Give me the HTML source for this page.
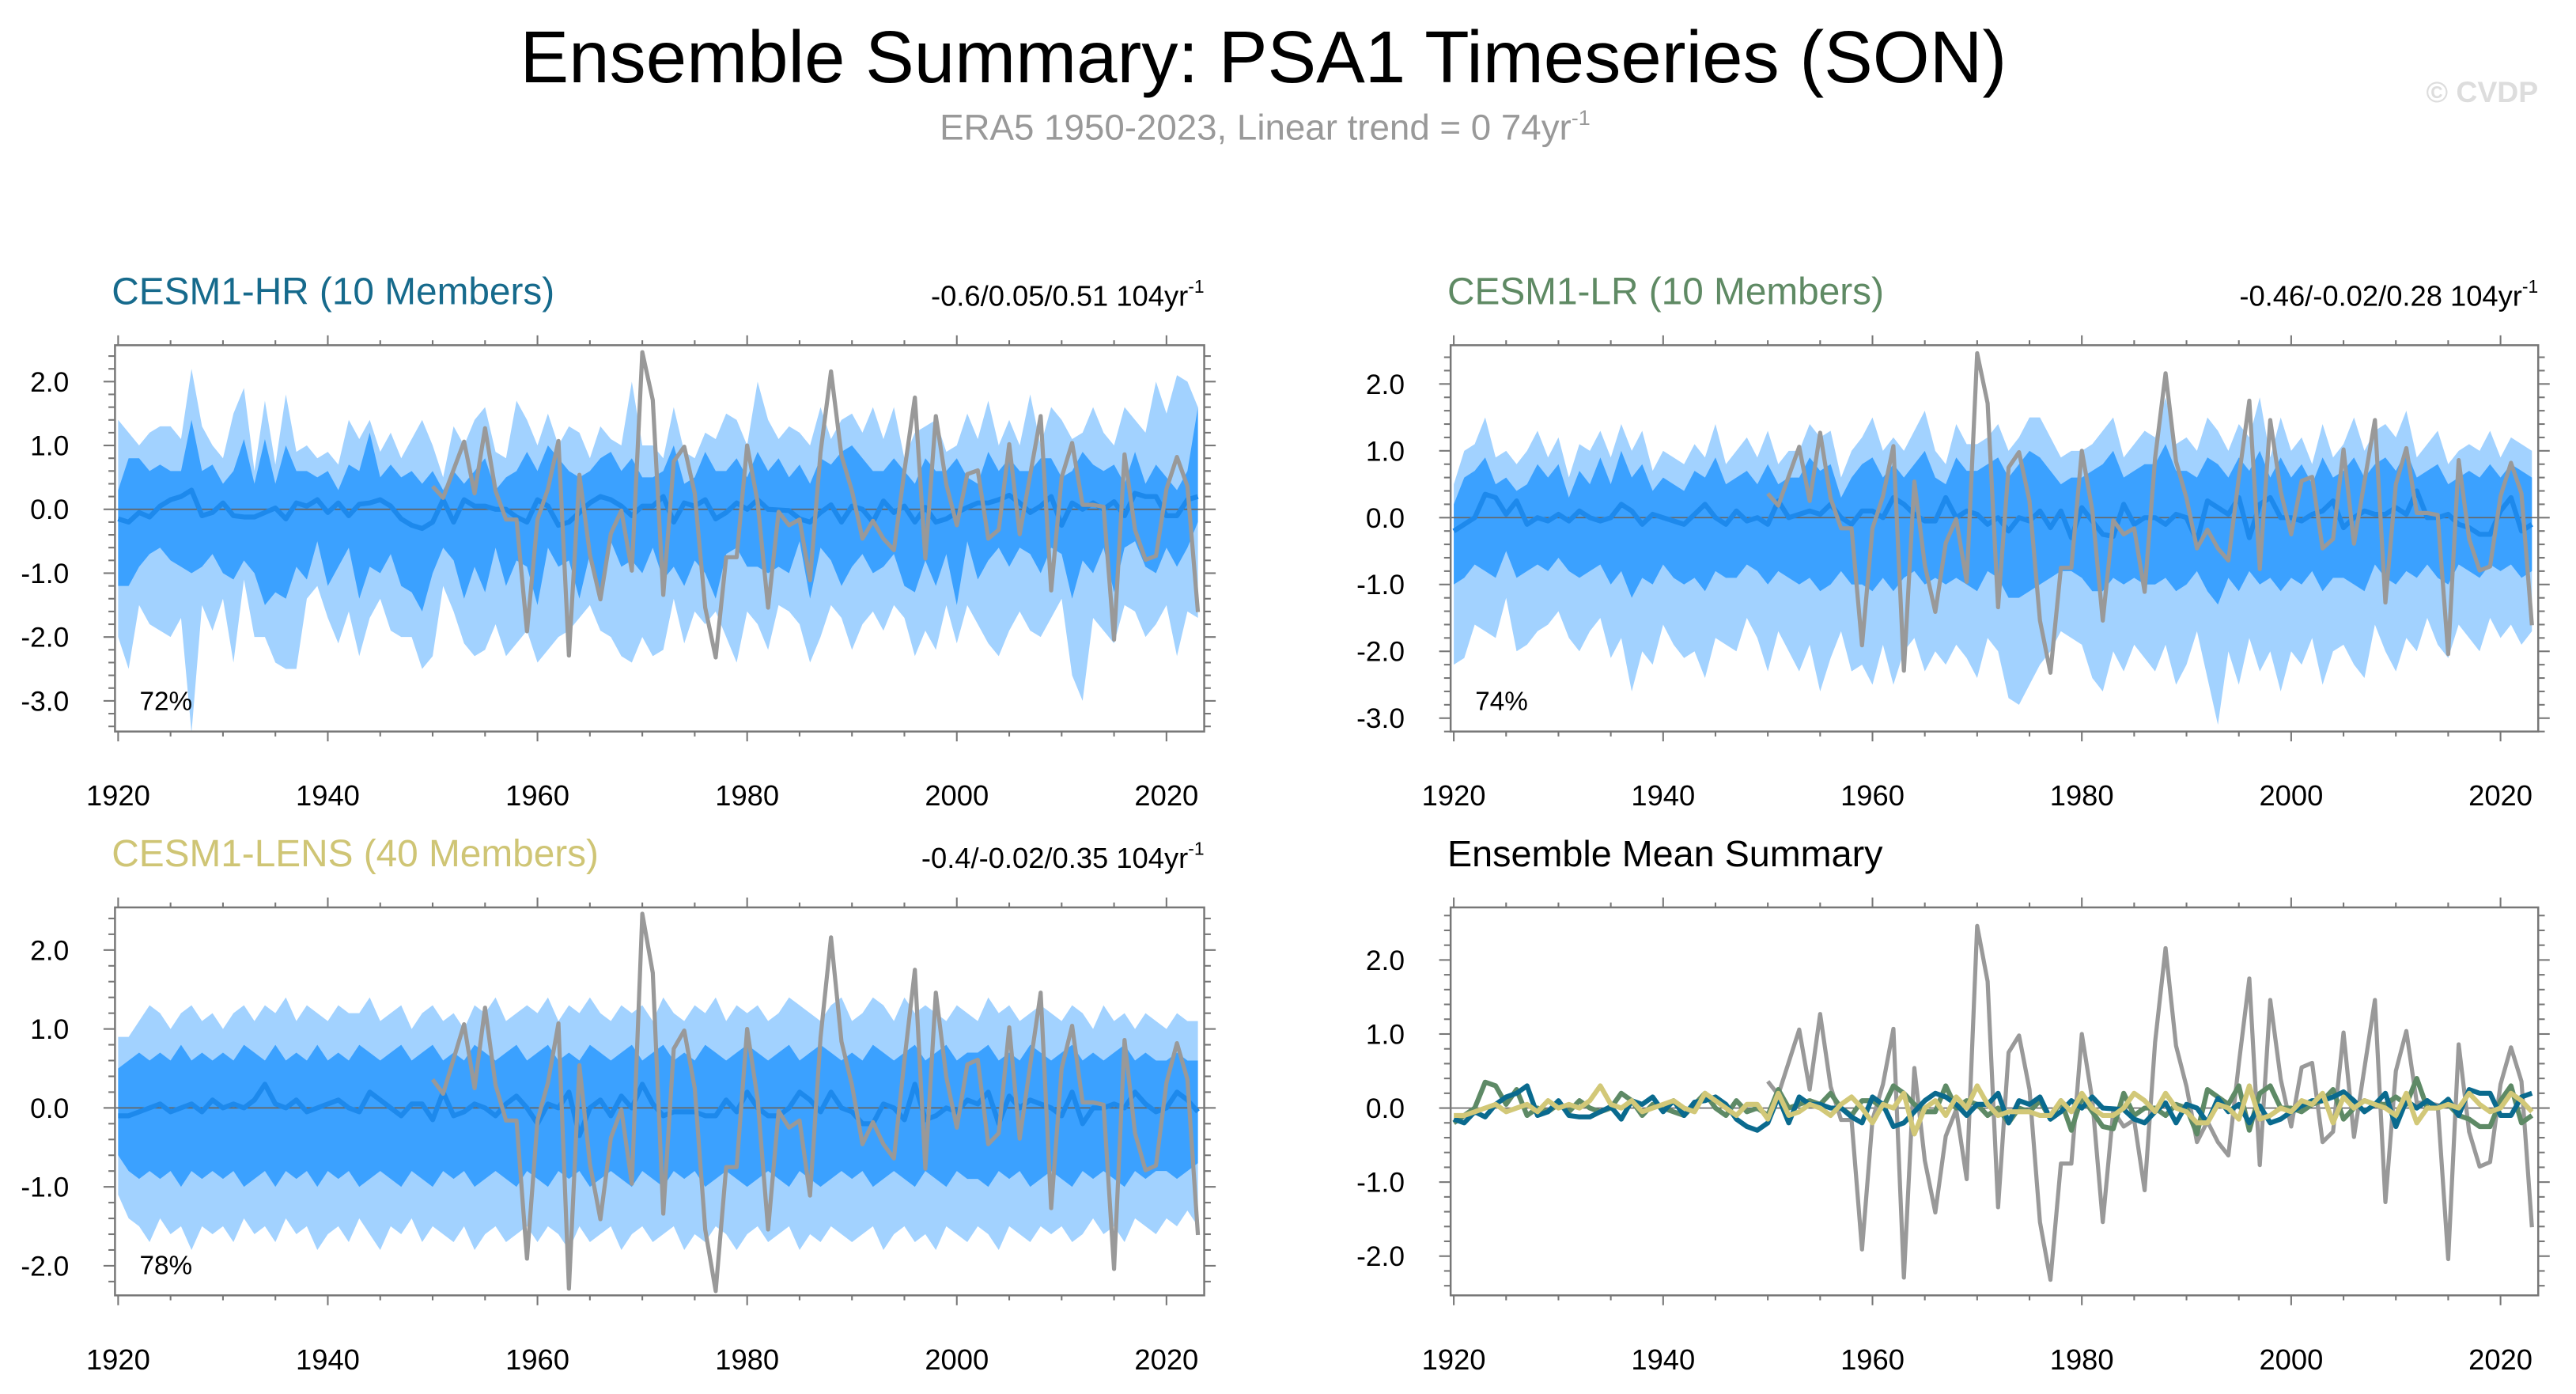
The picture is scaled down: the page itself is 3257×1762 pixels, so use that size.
<!DOCTYPE html>
<html><head><meta charset="utf-8"><style>
html,body{margin:0;padding:0;background:#fff}
svg{display:block;font-family:"Liberation Sans",sans-serif}
</style></head><body>
<svg id="chart" xmlns="http://www.w3.org/2000/svg" width="3257" height="1762" viewBox="0 0 1568 848" preserveAspectRatio="none">
<rect width="1568" height="848" fill="#fff"/>
<text x="769" y="50" font-size="44.5" text-anchor="middle" fill="#000">Ensemble Summary: PSA1 Timeseries (SON)</text>
<text x="770" y="85" font-size="22" text-anchor="middle" fill="#999">ERA5 1950-2023, Linear trend = 0 74yr<tspan font-size="13" dy="-9">-1</tspan></text>
<text x="1545" y="62" font-size="18" text-anchor="end" fill="#ddd" font-weight="bold">© CVDP</text>
<g id="plots"></g>
</svg>
<script>
const years0 = 1920;
const eraStart = 1950;
const era5 = [0.36,0.18,0.62,1.06,0.25,1.27,0.29,-0.16,-0.16,-1.91,
-0.16,0.32,1.07,-2.29,0.54,-0.71,-1.41,-0.38,-0.02,-0.96,
2.46,1.71,-1.34,0.75,0.98,0.25,-1.54,-2.32,-0.75,-0.75,
1.0,0.11,-1.54,-0.04,-0.25,-0.16,-1.11,0.89,2.16,0.84,
0.29,-0.46,-0.18,-0.46,-0.64,0.6,1.75,-0.77,1.46,0.39,
-0.25,0.55,0.61,-0.46,-0.32,1.02,-0.39,0.54,1.46,-1.27,
0.5,1.04,0.07,0.07,0.04,-2.04,0.86,-0.32,-0.79,-0.73,
0.32,0.82,0.36,-1.61];
const hrMean = [-0.15,-0.2,-0.05,-0.12,0.05,0.15,0.2,0.3,-0.1,-0.05,
0.1,-0.1,-0.12,-0.12,-0.05,0.02,-0.15,0.1,0.05,0.15,
-0.05,0.1,-0.1,0.08,0.1,0.15,0.05,-0.15,-0.25,-0.3,
-0.2,0.15,-0.2,0.15,0.05,0.05,0.0,0.0,-0.12,-0.2,
0.15,0.05,-0.25,-0.2,-0.05,0.1,0.2,0.15,0.05,-0.1,
0.05,0.05,0.2,-0.2,0.1,0.05,0.15,-0.15,-0.05,0.1,
0.0,0.15,0.0,-0.01,-0.02,-0.15,-0.2,-0.05,0.07,-0.2,
0.05,0.0,-0.2,0.13,-0.05,0.05,-0.2,0.03,-0.2,-0.15,
-0.05,0.03,0.1,0.1,0.15,0.22,0.1,-0.05,0.05,0.2,
-0.25,0.1,0.0,0.1,0.0,0.12,-0.1,0.25,0.2,0.2,
-0.1,-0.1,0.15,0.2];
const lrMean = [-0.2,-0.1,0.0,0.35,0.3,0.05,0.25,-0.1,0.0,-0.05,
0.05,-0.05,0.1,0.0,-0.05,0.0,0.2,0.1,-0.1,0.05,
0.0,-0.05,-0.1,0.05,0.2,0.0,-0.1,0.1,-0.05,0.0,
-0.1,0.25,0.0,0.05,0.1,0.05,0.2,0.0,-0.1,0.1,
0.1,0.0,0.3,0.2,0.05,-0.05,-0.05,0.3,0.0,0.1,
0.05,-0.1,0.0,-0.2,0.0,-0.05,0.1,-0.15,0.1,-0.3,
0.15,-0.05,-0.25,-0.28,0.2,-0.1,0.0,0.0,-0.1,0.05,
0.0,-0.35,0.25,0.15,0.05,0.3,-0.3,0.2,0.3,0.0,
0.0,-0.05,0.05,0.1,0.25,-0.15,0.0,0.1,0.05,0.05,
0.15,0.05,0.4,0.0,0.0,0.05,-0.1,-0.15,-0.25,-0.25,
0.1,0.3,-0.2,-0.1];
const lensMean = [-0.1,-0.1,-0.05,0.0,0.05,-0.05,0.0,0.05,-0.05,0.1,
0.0,0.05,0.0,0.1,0.3,0.05,0.0,0.1,-0.05,0.0,
0.05,0.1,0.0,-0.05,0.2,0.1,0.0,-0.1,0.05,0.05,
-0.15,0.2,-0.1,-0.05,0.05,0.0,-0.1,0.05,0.15,0.0,
-0.2,0.05,0.0,0.2,-0.35,0.0,0.1,-0.1,0.15,0.0,
0.3,0.05,-0.1,-0.05,-0.05,-0.05,-0.1,-0.1,0.1,-0.05,
0.2,0.0,-0.1,-0.1,0.0,0.2,0.1,-0.05,0.2,0.0,
-0.05,-0.2,-0.2,0.05,0.0,-0.15,0.3,-0.15,-0.1,0.0,
-0.05,0.1,0.05,0.2,-0.2,0.15,0.0,0.1,0.05,0.0,
-0.1,0.2,-0.2,0.0,0.0,0.05,0.0,0.2,0.05,-0.05,
0.0,0.2,0.1,-0.05];
const hrOuterHi = [1.4,1.2,1.0,1.2,1.3,1.3,1.1,2.2,1.3,1.0,0.8,1.5,1.9,0.6,1.7,0.7,1.8,0.9,1.0,0.8,0.9,0.7,1.4,1.1,1.4,0.9,1.2,0.8,1.1,1.4,1.0,0.5,1.3,1.0,1.4,1.6,0.9,0.8,1.7,1.4,1.0,1.5,1.0,1.3,1.2,0.8,1.3,1.1,1.0,2.0,1.0,1.0,0.8,1.6,0.9,0.8,1.2,1.1,1.5,1.4,1.0,2.0,1.4,1.1,1.3,1.2,1.0,1.6,1.1,1.4,1.5,1.2,1.6,1.1,1.6,0.8,1.2,1.3,1.4,0.9,1.0,1.5,1.1,1.7,1.0,1.4,1.0,1.8,1.0,1.6,1.4,1.1,1.2,1.6,1.2,1.0,1.6,1.4,1.2,2.0,1.5,2.1,2.0,1.6];
const hrOuterLo = [-2.0,-2.5,-1.5,-1.8,-1.9,-2.0,-1.7,-3.5,-1.5,-1.9,-1.4,-2.4,-1.1,-2.0,-2.0,-2.4,-2.5,-2.5,-1.4,-1.2,-1.7,-2.1,-1.6,-2.3,-1.7,-1.4,-1.9,-2.0,-2.0,-2.5,-2.3,-1.2,-1.6,-2.1,-2.3,-2.2,-1.8,-2.3,-2.1,-1.9,-2.4,-2.2,-2.0,-1.9,-1.7,-1.5,-1.9,-2.0,-2.3,-2.4,-2.0,-2.3,-2.2,-1.4,-2.1,-1.6,-1.8,-1.6,-2.0,-2.4,-1.6,-1.8,-2.2,-1.5,-1.6,-1.8,-2.4,-2.0,-1.5,-1.7,-2.2,-1.8,-1.6,-1.9,-1.5,-1.7,-2.3,-1.9,-2.2,-1.5,-2.1,-1.5,-1.8,-2.1,-2.3,-1.9,-1.6,-1.9,-2.0,-1.7,-1.4,-2.6,-3.0,-1.7,-1.9,-2.1,-1.5,-1.6,-2.0,-1.8,-1.5,-2.3,-1.6,-1.7];
const hrInnerHi = [0.3,0.8,0.8,0.6,0.7,0.6,0.6,1.4,0.6,0.7,0.4,0.6,1.1,0.4,1.1,0.4,1.0,0.6,0.6,0.5,0.6,0.3,0.7,0.6,1.2,0.5,0.7,0.5,0.6,0.4,0.6,0.3,0.6,0.4,0.6,0.8,0.3,0.5,0.6,0.9,0.6,1.0,0.8,0.6,0.5,0.6,0.8,0.9,0.6,0.8,0.5,0.5,0.6,1.0,0.4,0.5,0.9,0.6,0.6,0.8,0.5,0.9,0.6,0.8,0.5,0.7,0.4,0.8,0.7,0.9,1.0,0.8,0.6,0.6,0.8,0.6,0.4,0.8,0.6,0.6,0.8,0.5,0.4,0.9,0.6,0.8,0.6,0.6,0.8,0.8,0.5,0.6,0.9,0.7,0.6,0.7,0.4,0.9,0.4,0.7,0.5,0.3,0.6,1.6];
const hrInnerLo = [-1.2,-1.2,-0.9,-0.7,-0.6,-0.8,-0.9,-1.0,-0.9,-0.7,-1.0,-1.1,-0.8,-1.0,-1.5,-1.3,-1.4,-0.9,-1.1,-0.5,-1.2,-0.9,-0.6,-1.4,-0.9,-1.0,-0.7,-1.2,-1.3,-1.6,-1.0,-0.6,-0.8,-1.4,-0.9,-1.3,-0.6,-1.2,-0.8,-0.9,-1.5,-0.6,-0.9,-0.8,-1.4,-0.7,-1.3,-0.5,-0.9,-0.8,-1.0,-0.6,-1.1,-0.9,-1.2,-0.8,-1.0,-1.4,-0.7,-0.6,-0.9,-0.9,-1.0,-0.9,-1.0,-0.5,-1.4,-0.6,-0.8,-1.2,-0.9,-0.7,-1.0,-0.9,-0.7,-1.2,-1.3,-0.8,-1.2,-0.7,-1.5,-0.5,-1.1,-0.8,-0.6,-0.9,-0.6,-0.7,-1.0,-0.6,-0.7,-1.4,-0.8,-1.0,-0.6,-1.3,-0.6,-0.5,-0.9,-1.0,-0.6,-0.9,-0.6,-0.2];
const lrOuterHi = [0.5,1.0,1.1,1.5,0.9,1.0,0.8,1.0,1.3,0.9,1.2,0.6,1.1,1.0,1.3,0.9,1.4,1.0,1.3,0.7,1.0,0.9,0.8,1.1,0.9,1.4,0.8,1.0,1.2,0.9,1.3,0.8,1.0,1.0,1.4,1.2,1.3,0.6,1.0,1.2,1.5,1.0,1.2,1.0,1.3,1.6,1.0,0.8,1.4,1.1,1.1,1.2,1.4,1.0,1.2,1.5,1.5,1.2,0.9,1.0,1.0,1.1,1.3,1.5,0.9,1.1,1.3,1.2,1.8,1.1,1.2,1.0,1.5,1.3,1.0,1.4,1.2,1.8,0.9,1.5,1.0,1.2,0.8,1.4,0.9,1.1,1.5,1.0,1.3,1.4,1.2,1.6,0.9,1.1,1.3,0.8,1.0,1.1,1.0,1.3,0.9,1.2,1.1,1.0];
const lrOuterLo = [-2.2,-2.1,-1.6,-1.7,-1.8,-1.2,-2.0,-1.9,-1.7,-1.6,-1.4,-1.8,-2.0,-1.7,-1.5,-2.1,-1.8,-2.6,-2.0,-2.2,-1.6,-1.9,-2.1,-2.0,-2.4,-1.8,-1.9,-2.0,-1.5,-1.8,-2.3,-1.7,-2.0,-2.3,-1.9,-2.6,-2.1,-1.7,-2.3,-2.2,-2.5,-1.9,-2.5,-2.0,-1.8,-2.3,-2.0,-2.2,-1.9,-2.1,-2.4,-1.8,-2.0,-2.7,-2.8,-2.5,-2.2,-2.0,-1.7,-1.8,-1.9,-2.4,-2.6,-2.0,-2.3,-1.9,-2.1,-2.3,-1.9,-2.5,-2.2,-1.7,-2.4,-3.1,-2.0,-2.5,-1.8,-2.3,-2.0,-2.6,-2.0,-2.2,-1.8,-2.5,-2.0,-1.9,-2.2,-2.4,-1.6,-2.0,-2.3,-1.8,-2.0,-1.5,-1.9,-2.1,-1.6,-1.8,-2.0,-1.5,-1.8,-1.6,-1.9,-1.7];
const lrInnerHi = [0.2,0.6,0.7,0.9,0.5,0.6,0.4,0.5,0.8,0.6,0.8,0.3,0.7,0.5,0.9,0.5,1.0,0.6,0.8,0.4,0.6,0.5,0.4,0.7,0.6,0.9,0.5,0.6,0.7,0.5,0.8,0.5,0.6,0.6,0.9,0.7,0.8,0.3,0.6,0.8,0.9,0.6,0.8,0.6,0.8,1.0,0.6,0.5,0.9,0.7,0.7,0.8,0.9,0.6,0.8,1.0,0.9,0.7,0.5,0.6,0.6,0.7,0.8,1.0,0.6,0.7,0.8,0.8,1.1,0.7,0.7,0.6,0.9,0.8,0.6,0.9,0.7,1.0,0.6,0.9,0.6,0.8,0.5,0.9,0.6,0.7,0.9,0.6,0.8,0.9,0.7,1.0,0.6,0.7,0.8,0.5,0.6,0.7,0.6,0.8,0.6,0.8,0.7,0.6];
const lrInnerLo = [-1.0,-0.9,-0.7,-0.8,-0.9,-0.5,-0.9,-0.8,-0.7,-0.8,-0.6,-0.8,-0.9,-0.8,-0.7,-1.0,-0.8,-1.2,-0.9,-1.0,-0.7,-0.9,-1.0,-0.9,-1.1,-0.8,-0.9,-0.9,-0.7,-0.8,-1.0,-0.8,-0.9,-1.0,-0.9,-1.1,-1.0,-0.8,-1.0,-1.0,-1.1,-0.9,-1.1,-0.9,-0.8,-1.0,-0.9,-1.0,-0.9,-1.0,-1.1,-0.8,-0.9,-1.2,-1.2,-1.1,-1.0,-0.9,-0.8,-0.8,-0.9,-1.1,-1.1,-0.9,-1.0,-0.9,-1.0,-1.0,-0.9,-1.1,-1.0,-0.8,-1.1,-1.3,-0.9,-1.1,-0.8,-1.0,-0.9,-1.1,-0.9,-1.0,-0.8,-1.1,-0.9,-0.9,-1.0,-1.1,-0.7,-0.9,-1.0,-0.8,-0.9,-0.7,-0.9,-1.0,-0.7,-0.8,-0.9,-0.7,-0.8,-0.7,-0.9,-0.8];
const lensOuterHi = [0.9,0.9,1.1,1.3,1.2,1.0,1.2,1.3,1.1,1.2,1.0,1.2,1.3,1.1,1.3,1.2,1.4,1.1,1.3,1.2,1.1,1.3,1.2,1.2,1.4,1.1,1.2,1.3,1.0,1.2,1.3,1.1,1.2,1.0,1.3,1.2,1.4,1.1,1.2,1.3,1.2,1.4,1.1,1.3,1.2,1.4,1.2,1.1,1.3,1.2,1.3,1.1,1.4,1.2,1.1,1.3,1.2,1.4,1.1,1.3,1.2,1.3,1.1,1.2,1.4,1.3,1.2,1.1,1.3,1.4,1.1,1.2,1.4,1.3,1.1,1.4,1.2,1.3,1.2,1.1,1.3,1.2,1.1,1.4,1.2,1.3,1.1,1.2,1.3,1.2,1.1,1.3,1.2,1.0,1.3,1.1,1.2,1.0,1.2,1.1,1.0,1.2,1.1,1.1];
const lensOuterLo = [-1.1,-1.4,-1.5,-1.7,-1.4,-1.6,-1.5,-1.8,-1.5,-1.6,-1.5,-1.7,-1.4,-1.6,-1.5,-1.7,-1.4,-1.6,-1.5,-1.8,-1.6,-1.5,-1.7,-1.4,-1.6,-1.8,-1.5,-1.6,-1.4,-1.7,-1.5,-1.6,-1.7,-1.5,-1.8,-1.6,-1.5,-1.7,-1.6,-1.5,-1.7,-1.5,-1.6,-1.8,-1.5,-1.7,-1.6,-1.5,-1.8,-1.6,-1.5,-1.7,-1.6,-1.5,-1.8,-1.6,-1.7,-1.5,-1.6,-1.8,-1.6,-1.5,-1.7,-1.6,-1.5,-1.8,-1.6,-1.7,-1.5,-1.6,-1.7,-1.6,-1.5,-1.8,-1.6,-1.5,-1.7,-1.6,-1.8,-1.5,-1.6,-1.7,-1.5,-1.6,-1.8,-1.5,-1.6,-1.7,-1.5,-1.6,-1.5,-1.7,-1.6,-1.4,-1.6,-1.5,-1.7,-1.4,-1.5,-1.6,-1.4,-1.5,-1.3,-1.5];
const lensInnerHi = [0.5,0.6,0.7,0.6,0.7,0.6,0.8,0.6,0.7,0.6,0.7,0.6,0.8,0.7,0.6,0.8,0.6,0.7,0.6,0.8,0.6,0.7,0.6,0.8,0.7,0.6,0.7,0.8,0.6,0.7,0.8,0.6,0.7,0.6,0.8,0.7,0.6,0.7,0.8,0.6,0.7,0.8,0.6,0.7,0.6,0.8,0.7,0.6,0.7,0.8,0.6,0.7,0.8,0.6,0.7,0.6,0.8,0.7,0.6,0.7,0.8,0.7,0.6,0.7,0.8,0.6,0.7,0.8,0.7,0.6,0.7,0.6,0.8,0.7,0.6,0.7,0.8,0.6,0.7,0.8,0.6,0.7,0.7,0.8,0.6,0.7,0.6,0.8,0.7,0.6,0.7,0.8,0.6,0.7,0.6,0.7,0.8,0.6,0.7,0.6,0.6,0.7,0.6,0.6];
const lensInnerLo = [-0.6,-0.8,-0.9,-0.8,-0.9,-0.8,-1.0,-0.8,-0.9,-0.8,-0.9,-0.8,-1.0,-0.9,-0.8,-1.0,-0.8,-0.9,-0.8,-1.0,-0.8,-0.9,-0.8,-1.0,-0.9,-0.8,-0.9,-1.0,-0.8,-0.9,-1.0,-0.8,-0.9,-0.8,-1.0,-0.9,-0.8,-0.9,-1.0,-0.8,-0.9,-1.0,-0.8,-0.9,-0.8,-1.0,-0.9,-0.8,-0.9,-1.0,-0.8,-0.9,-1.0,-0.8,-0.9,-0.8,-1.0,-0.9,-0.8,-0.9,-1.0,-0.9,-0.8,-0.9,-1.0,-0.8,-0.9,-1.0,-0.9,-0.8,-0.9,-0.8,-1.0,-0.9,-0.8,-0.9,-1.0,-0.8,-0.9,-1.0,-0.8,-0.9,-0.9,-1.0,-0.8,-0.9,-0.8,-1.0,-0.9,-0.8,-0.9,-1.0,-0.8,-0.9,-0.8,-0.9,-1.0,-0.8,-0.9,-0.8,-0.8,-0.9,-0.8,-0.7];
const xTickYears = [1920,1940,1960,1980,2000,2020];
const yTicksTall = [2,1,0,-1,-2,-3];
const yTicksShort = [2,1,0,-1,-2];

const NS = 'http://www.w3.org/2000/svg';
const root = document.getElementById('plots');
function mk(tag, attrs, parent){const e=document.createElementNS(NS,tag);for(const k in attrs)e.setAttribute(k,attrs[k]);(parent||root).appendChild(e);return e;}

function drawPanel(p){
  const g = mk('g',{});
  
  
  const X = yr => p.x0 + (yr-1919.7)/(2023.6-1919.7)*(p.x1-p.x0);
  const Y = v => p.y0 + (p.ymax - v)/(p.ymax-p.ymin)*(p.y1-p.y0);
  const clip = mk('clipPath',{id:'clip-'+p.name},g);
  mk('rect',{x:p.x0,y:p.y0,width:p.x1-p.x0,height:p.y1-p.y0},clip);
  const pg = mk('g',{'clip-path':'url(#clip-'+p.name+')'},g);
  function band(hi,lo,color,nm){
    let d='';
    hi.forEach((v,i)=>{d+=(i?'L':'M')+X(years0+i).toFixed(2)+','+Y(v).toFixed(2);});
    for(let i=lo.length-1;i>=0;i--) d+='L'+X(years0+i).toFixed(2)+','+Y(lo[i]).toFixed(2);
    const e=mk('path',{d:d+'Z',fill:color},pg);
    
    
  }
  function line(arr,start,color,w,nm){
    const d=arr.map((v,i)=>(i?'L':'M')+X(start+i).toFixed(2)+','+Y(v).toFixed(2)).join('');
    const e=mk('path',{d:d,fill:'none',stroke:color,'stroke-width':w,'stroke-linejoin':'round'},pg);
    
    
  }
  if(p.bands){
    band(p.bands[0],p.bands[1],'#a2d2ff','outer-range-band');
    band(p.bands[2],p.bands[3],'#3ba1ff','inner-range-band');
  }
  const zl = mk('line',{x1:p.x0,x2:p.x1,y1:Y(0),y2:Y(0),stroke:'#666','stroke-width':0.8},pg);
  
  
  if(p.bands){
    line(p.mean,years0,'#1d89ec',3,'ensemble-mean-line');
    line(era5,eraStart,'#999',2.5,'era5-line');
  } else {
    line(era5,eraStart,'#999',2.5,'era5-line');
    line(lrMean,years0,'#5e8a66',3,'cesm1-lr-mean-line');
    line(hrMean,years0,'#0a6a8e',3,'cesm1-hr-mean-line');
    line(lensMean,years0,'#d2c878',3,'cesm1-lens-mean-line');
  }
  const fr = mk('rect',{x:p.x0,y:p.y0,width:p.x1-p.x0,height:p.y1-p.y0,fill:'none',stroke:'#777','stroke-width':1.2},g);
  
  
  for(let yr=1920; yr<=2023; yr+=5){
    const major = yr%20===0, L = major?6:3, x=X(yr);
    mk('line',{x1:x,x2:x,y1:p.y1,y2:p.y1+L,stroke:'#777','stroke-width':1},g);
    mk('line',{x1:x,x2:x,y1:p.y0,y2:p.y0-L,stroke:'#777','stroke-width':1},g);
  }
  for(let k=Math.ceil(p.ymin*5);k<=Math.floor(p.ymax*5);k++){
    const v=k/5, major = k%5===0, L=major?7:4, y=Y(v);
    mk('line',{x1:p.x0,x2:p.x0-L,y1:y,y2:y,stroke:'#777','stroke-width':1},g);
    mk('line',{x1:p.x1,x2:p.x1+L,y1:y,y2:y,stroke:'#777','stroke-width':1},g);
  }
  xTickYears.forEach(yr=>{
    const t=mk('text',{x:X(yr),y:p.y1+45,'font-size':17.5,'text-anchor':'middle',fill:'#000'},g);
    t.textContent=yr;
    
    
  });
  p.yticks.forEach(v=>{
    const t=mk('text',{x:p.x0-28,y:Y(v)+6,'font-size':17,'text-anchor':'end',fill:'#000'},g);
    t.textContent=v.toFixed(1);
    
    
  });
  const tt=mk('text',{x:p.x0-2,y:p.y0-25,'font-size':p.titleSize||23,fill:p.titleColor},g);
  tt.textContent=p.title;
  
  
  if(p.stats){
    const st=mk('text',{x:p.x1,y:p.y0-24,'font-size':17.5,'text-anchor':'end',fill:'#000'},g);
    
    
    const a=mk('tspan',{},st); a.textContent=p.stats+' 104yr';
    const b=mk('tspan',{'font-size':11,dy:-8},st); b.textContent='-1';
  }
  if(p.pct){
    const pc=mk('text',{x:p.x0+15,y:p.y1-13,'font-size':16,fill:'#000'},g);
    pc.textContent=p.pct;
    
    
  }
}
drawPanel({name:'panel-cesm1-hr',x0:70,x1:733,y0:210,y1:445,ymax:2.57,ymin:-3.48,yticks:yTicksTall,
  bands:[hrOuterHi,hrOuterLo,hrInnerHi,hrInnerLo],mean:hrMean,title:'CESM1-HR (10 Members)',titleColor:'#166a8c',stats:'-0.6/0.05/0.51',pct:'72%'});
drawPanel({name:'panel-cesm1-lr',x0:883,x1:1545,y0:210,y1:445,ymax:2.58,ymin:-3.2,yticks:yTicksTall,
  bands:[lrOuterHi,lrOuterLo,lrInnerHi,lrInnerLo],mean:lrMean,title:'CESM1-LR (10 Members)',titleColor:'#5f8a64',stats:'-0.46/-0.02/0.28',pct:'74%'});
drawPanel({name:'panel-cesm1-lens',x0:70,x1:733,y0:552,y1:788,ymax:2.54,ymin:-2.375,yticks:yTicksShort,
  bands:[lensOuterHi,lensOuterLo,lensInnerHi,lensInnerLo],mean:lensMean,title:'CESM1-LENS (40 Members)',titleColor:'#cfc575',stats:'-0.4/-0.02/0.35',pct:'78%'});
drawPanel({name:'panel-ensemble-mean-summary',x0:883,x1:1545,y0:552,y1:788,ymax:2.71,ymin:-2.53,yticks:yTicksShort,
  bands:null,title:'Ensemble Mean Summary',titleColor:'#000',titleSize:22.5});
</script>
</body></html>
